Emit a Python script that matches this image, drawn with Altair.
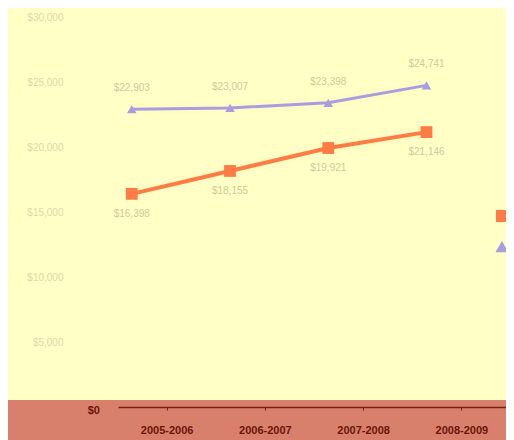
import altair as alt
import pandas as pd

years = ["2005-2006", "2006-2007", "2007-2008", "2008-2009"]
series_a = "Out-of-State"
series_b = "In-State"
values_a = [22903, 23007, 23398, 24741]
values_b = [16398, 18155, 19921, 21146]

rows = []
for y, v in zip(years, values_a):
    rows.append({"year": y, "series": series_a, "value": v})
for y, v in zip(years, values_b):
    rows.append({"year": y, "series": series_b, "value": v})
df = pd.DataFrame(rows)
df["label"] = df["value"].map(lambda v: "${:,.0f}".format(v))
df_a = df[df.series == series_a]
df_b = df[df.series == series_b]

W, H = 388, 390
BP = 0.14

xenc = alt.X("year:O", sort=years, bandPosition=BP,
             scale=alt.Scale(type="band", paddingInner=0, paddingOuter=0, range=[0, 393]),
             axis=alt.Axis(title=None, labelAngle=0, labelColor="#6b1408",
                           labelFontWeight="bold", labelFontSize=11,
                           labelFont="Liberation Sans", labelPadding=14,
                           domainColor="#7a2010", domainWidth=1.5,
                           tickColor="#7a2010", tickSize=3, tickBand="center",
                           zindex=2))
yenc = alt.Y("value:Q", scale=alt.Scale(domain=[0, 30000], nice=False),
             axis=alt.Axis(title=None, values=[0, 5000, 10000, 15000, 20000, 25000, 30000],
                           format="$,.0f", labelExpr="datum.value == 0 ? '' : datum.label",
                           labelColor="#e0d8a8", labelFontSize=10, labelPadding=55,
                           labelFont="Liberation Sans",
                           domain=False, ticks=False, grid=False))

color_scale = alt.Scale(domain=[series_b, series_a], range=["#ff7d45", "#a99ddf"])
leg = alt.Legend(title=None, orient="none", legendX=378, legendY=193,
                 labelColor="#6b1408", labelFontSize=11, symbolSize=110, rowPadding=14)

band = alt.Chart(pd.DataFrame({"d": [0]})).mark_rect(color="#d9806c").encode(
    x=alt.value(-130), x2=alt.value(W + 30), y=alt.value(383), y2=alt.value(440))

zero = alt.Chart(pd.DataFrame({"value": [0], "t": ["$0"]})).mark_text(
    align="right", baseline="middle", fontWeight="bold", fontSize=11,
    font="Liberation Sans", color="#6b1408", dy=4).encode(
    x=alt.value(-18), y=alt.Y("value:Q", scale=alt.Scale(domain=[0, 30000], nice=False)),
    text="t:N")

base = alt.Chart(df)

glow = base.mark_line(strokeWidth=12, opacity=0.35, color="#fff6c0").encode(
    x=xenc, y=yenc, detail="series:N")

lines = base.mark_line().encode(
    x=xenc, y=yenc,
    color=alt.Color("series:N", scale=color_scale, legend=leg),
    strokeWidth=alt.condition(alt.datum.series == series_b, alt.value(4), alt.value(3)))

pts = base.mark_point(filled=True, opacity=1).encode(
    x=xenc, y=yenc,
    color=alt.Color("series:N", scale=color_scale, legend=leg),
    shape=alt.Shape("series:N",
                    scale=alt.Scale(domain=[series_b, series_a], range=["square", "triangle-up"]),
                    legend=None),
    size=alt.condition(alt.datum.series == series_b, alt.value(140), alt.value(90)))

lab_a = alt.Chart(df_a).mark_text(dy=-21, fontSize=10, color="#d2c99a",
                                  font="Liberation Sans").encode(x=xenc, y=yenc, text="label:N")
lab_b = alt.Chart(df_b).mark_text(dy=20, fontSize=10, color="#d2c99a",
                                  font="Liberation Sans").encode(x=xenc, y=yenc, text="label:N")

chart = alt.layer(band, zero, glow, lines, pts, lab_a, lab_b).properties(
    width=W, height=H,
    autosize=alt.AutoSizeParams(type="none"),
    padding={"left": 110, "top": 9, "right": 0, "bottom": 33},
    background="#ffffc6",
).configure_view(stroke=None)

chart.save("out.html", embed_options={"renderer": "svg", "actions": False})
